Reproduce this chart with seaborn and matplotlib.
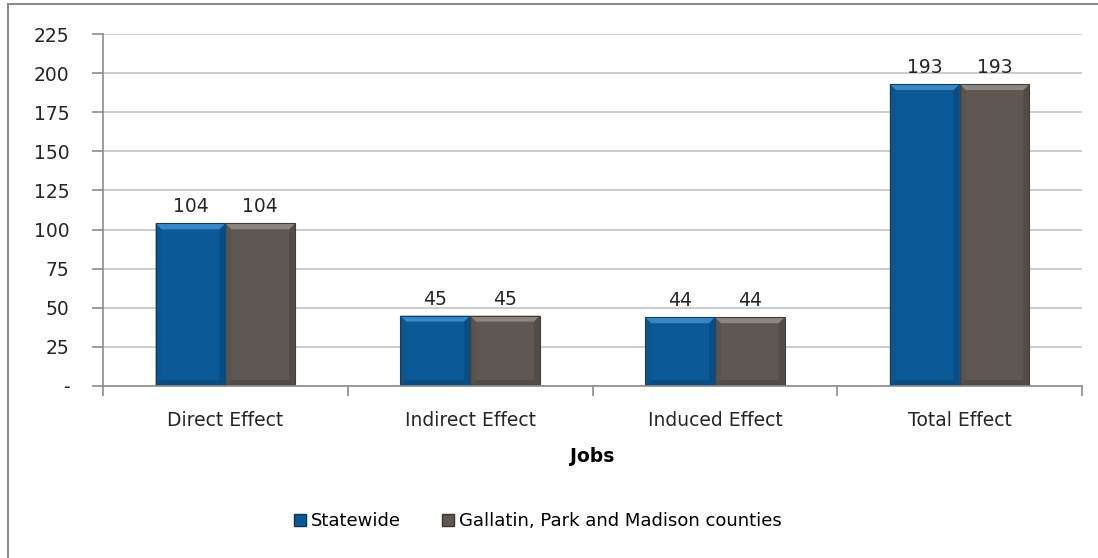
import matplotlib
matplotlib.use("Agg")
import matplotlib.pyplot as plt
from matplotlib.patches import Rectangle, Polygon
from matplotlib.lines import Line2D
import numpy as np
import pandas as pd
import seaborn as sns

# Jobs impact by effect type
categories = ["Direct Effect", "Indirect Effect", "Induced Effect", "Total Effect"]
series_names = ["Statewide", "Gallatin, Park and Madison counties"]
statewide = [104, 45, 44, 193]
regional = [104, 45, 44, 193]
y_ticks = [0, 25, 50, 75, 100, 125, 150, 175, 200, 225]
y_tick_labels = ["-", "25", "50", "75", "100", "125", "150", "175", "200", "225"]
x_title = "Jobs"

colors = ["#0b5a97", "#5f5751"]

df = pd.DataFrame({
    "Effect": categories * 2,
    "Series": [series_names[0]] * len(categories) + [series_names[1]] * len(categories),
    "Jobs": statewide + regional,
})

sns.set_theme(style="white")
plt.rcParams["font.family"] = ["DejaVu Sans"]

W, H = 1098, 558
fig = plt.figure(figsize=(W / 100, H / 100), dpi=100)
ax = fig.add_axes([103 / W, 1 - 386 / H, (1082 - 103) / W, (386 - 34) / H])

sns.barplot(data=df, x="Effect", y="Jobs", hue="Series", palette=colors,
            width=0.57, gap=0, ax=ax, legend=False, saturation=1,
            edgecolor="none", linewidth=0)

ax.set_ylim(0, 225)
ax.set_xlim(-0.5, len(categories) - 0.5)

text_color = "#262626"

# horizontal gridlines
ax.set_yticks(y_ticks)
ax.set_yticklabels(y_tick_labels)
ax.yaxis.grid(True, color="#c4c4c4", linewidth=1.2)
ax.set_axisbelow(True)

# category labels at centers, tick marks at category boundaries
ax.set_xticks(range(len(categories)))
ax.set_xticklabels(categories)
ax.set_xticks(np.arange(-0.5, len(categories)), minor=True)
ax.tick_params(axis="x", which="major", length=0, pad=18, labelsize=13.5, labelcolor=text_color)
ax.tick_params(axis="x", which="minor", length=7, width=1.2, color="#8c8c8c", direction="out", bottom=True)
ax.tick_params(axis="y", which="major", length=8, width=1.2, color="#8c8c8c", direction="out",
               left=True, pad=16, labelsize=13.5, labelcolor=text_color)

for side in ["top", "right"]:
    ax.spines[side].set_visible(False)
for side in ["left", "bottom"]:
    ax.spines[side].set_color("#8c8c8c")
    ax.spines[side].set_linewidth(1.2)

ax.set_xlabel(x_title, fontsize=13.5, fontweight="semibold", labelpad=12, color="#000000")
ax.set_ylabel("")

# bevel shading and value labels on each bar
fig.canvas.draw()
inv = ax.transData.inverted()
bevel = 6
for bar in ax.patches:
    x0, y0 = bar.get_x(), bar.get_y()
    w, h = bar.get_width(), bar.get_height()
    (px0, py0) = ax.transData.transform((x0, y0))
    (px1, py1) = ax.transData.transform((x0 + w, y0 + h))
    def d(px, py):
        return inv.transform((px, py))
    base = np.array(matplotlib.colors.to_rgb(bar.get_facecolor()))
    light = np.clip(base + 0.18, 0, 1)
    dark = base * 0.86
    mid = base * 0.95
    top = [d(px0, py1), d(px1, py1), d(px1 - bevel, py1 - bevel), d(px0 + bevel, py1 - bevel)]
    bot = [d(px0, py0), d(px1, py0), d(px1 - bevel, py0 + bevel), d(px0 + bevel, py0 + bevel)]
    left = [d(px0, py0), d(px0, py1), d(px0 + bevel, py1 - bevel), d(px0 + bevel, py0 + bevel)]
    right = [d(px1, py0), d(px1, py1), d(px1 - bevel, py1 - bevel), d(px1 - bevel, py0 + bevel)]
    for pts, c in [(left, mid), (right, dark), (bot, dark), (top, light)]:
        ax.add_patch(Polygon(pts, closed=True, facecolor=c, edgecolor="none", zorder=bar.get_zorder() + 0.1))
    ax.add_patch(Rectangle((x0, y0), w, h, facecolor="none", edgecolor=base * 0.7,
                           linewidth=0.8, zorder=bar.get_zorder() + 0.2))
    ax.annotate(f"{h:.0f}", (x0 + w / 2, y0 + h), xytext=(0, 5), textcoords="offset points",
                ha="center", va="bottom", fontsize=13.5, color=text_color)

# legend below the plot
handles = [Line2D([], [], marker="s", linestyle="none", markersize=9,
                  markerfacecolor=c, markeredgecolor=np.array(matplotlib.colors.to_rgb(c)) * 0.6)
           for c in colors]
fig.legend(handles, series_names, loc="center", bbox_to_anchor=(537 / W, 1 - 521 / H), ncol=2,
           frameon=False, fontsize=13, handlelength=0.8, handletextpad=0.2,
           columnspacing=2.2, labelcolor="#000000")

# chart border
fig.patches.append(Rectangle((8 / W, -0.05), 1.2, 1 - 4 / H + 0.05, transform=fig.transFigure,
                             facecolor="none", edgecolor="#8c8c8c", linewidth=1.5, zorder=-1))

fig.savefig("out.png", dpi=100)
